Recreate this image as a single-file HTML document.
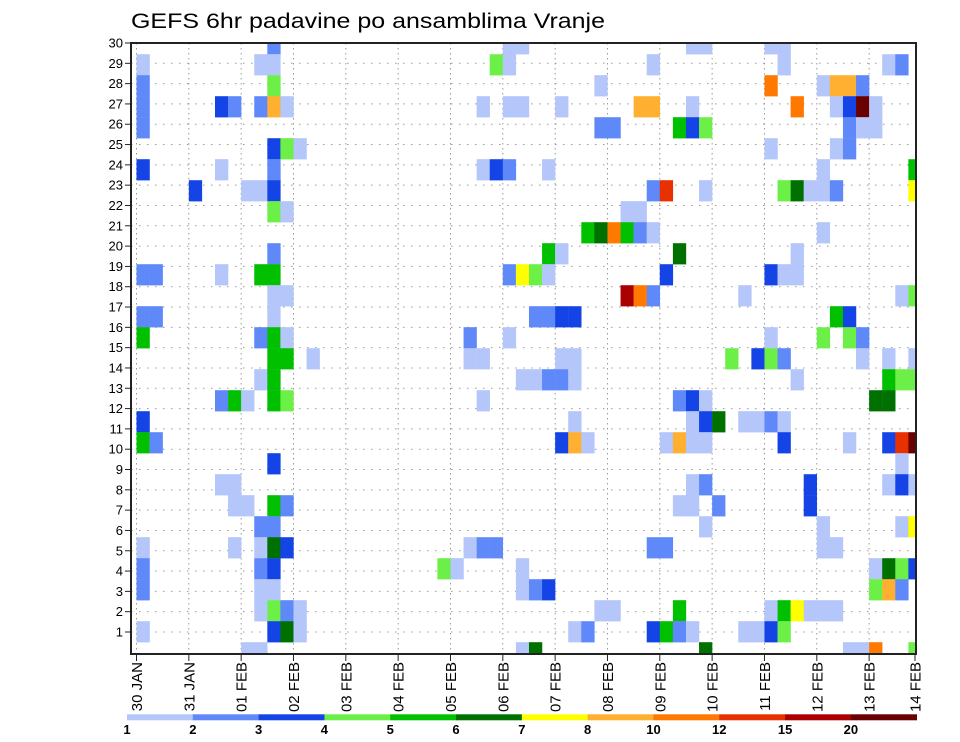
<!DOCTYPE html>
<html><head><meta charset="utf-8">
<style>
html,body{margin:0;padding:0;background:#fff;}
svg{display:block;font-family:"Liberation Sans",sans-serif;}
</style></head>
<body>
<svg id="chart" width="960" height="742" viewBox="0 0 960 742" xmlns="http://www.w3.org/2000/svg">
<text x="131" y="28" font-size="21" textLength="474" lengthAdjust="spacingAndGlyphs" fill="#000">GEFS 6hr padavine po ansamblima Vranje</text>
<defs><clipPath id="plotclip"><rect x="131" y="43" width="785" height="611"/></clipPath></defs>
<g id="grid"></g>
<g id="cells" clip-path="url(#plotclip)"></g>
<rect x="131" y="43" width="785" height="611" fill="none" stroke="#222" stroke-width="2"/>
<g id="yaxis"></g>
<g id="xaxis"></g>
<g id="legend"></g>
</svg>
<script>
// categories / ticks
const dayLabels = ["30 JAN","31 JAN","01 FEB","02 FEB","03 FEB","04 FEB","05 FEB","06 FEB","07 FEB","08 FEB","09 FEB","10 FEB","11 FEB","12 FEB","13 FEB","14 FEB"];
const memberTicks = [1,2,3,4,5,6,7,8,9,10,11,12,13,14,15,16,17,18,19,20,21,22,23,24,25,26,27,28,29,30];
const thresholdLabels = ["1","2","3","4","5","6","7","8","10","12","15","20"];
const thresholds = [1,2,3,4,5,6,7,8,10,12,15,20];
const palette = ["#b4c6fa","#5f88f8","#1444e6","#6cf048","#00c000","#007000","#ffff00","#ffb030","#ff7800","#e83000","#aa0000","#6a0000"];
// cells: [6h step from 30 JAN 00z, row from top, precip mm]
const cellData = [
[10,0,2.5],[28,0,1.5],[29,0,1.5],[42,0,1.5],[43,0,1.5],[48,0,1.5],[49,0,1.5],
[0,1,1.5],[9,1,1.5],[10,1,1.5],[27,1,4.5],[28,1,1.5],[39,1,1.5],[49,1,1.5],[57,1,1.5],[58,1,2.5],
[0,2,2.5],[10,2,4.5],[35,2,1.5],[48,2,11],[52,2,1.5],[53,2,9],[54,2,9],[55,2,2.5],
[0,3,2.5],[6,3,3.5],[7,3,2.5],[9,3,2.5],[10,3,9],[11,3,1.5],[26,3,1.5],[28,3,1.5],[29,3,1.5],[32,3,1.5],[38,3,9],[39,3,9],[42,3,1.5],[50,3,11],[53,3,1.5],[54,3,3.5],[55,3,22],[56,3,1.5],
[0,4,2.5],[35,4,2.5],[36,4,2.5],[41,4,5.5],[42,4,3.5],[43,4,4.5],[54,4,2.5],[55,4,1.5],[56,4,1.5],
[10,5,3.5],[11,5,4.5],[12,5,1.5],[48,5,1.5],[53,5,1.5],[54,5,2.5],
[0,6,3.5],[6,6,1.5],[10,6,2.5],[26,6,1.5],[27,6,3.5],[28,6,2.5],[31,6,1.5],[52,6,1.5],[59,6,5.5],
[4,7,3.5],[8,7,1.5],[9,7,1.5],[10,7,3.5],[39,7,2.5],[40,7,13],[43,7,1.5],[49,7,4.5],[50,7,6.5],[51,7,1.5],[52,7,1.5],[53,7,2.5],[59,7,7.5],
[10,8,4.5],[11,8,1.5],[37,8,1.5],[38,8,1.5],
[34,9,5.5],[35,9,6.5],[36,9,11],[37,9,5.5],[38,9,2.5],[39,9,1.5],[52,9,1.5],
[10,10,2.5],[31,10,5.5],[32,10,1.5],[41,10,6.5],[50,10,1.5],
[0,11,2.5],[1,11,2.5],[6,11,1.5],[9,11,5.5],[10,11,5.5],[28,11,2.5],[29,11,7.5],[30,11,4.5],[31,11,1.5],[40,11,3.5],[48,11,3.5],[49,11,1.5],[50,11,1.5],
[10,12,1.5],[11,12,1.5],[37,12,17],[38,12,11],[39,12,2.5],[46,12,1.5],[58,12,1.5],[59,12,4.5],
[0,13,2.5],[1,13,2.5],[10,13,1.5],[30,13,2.5],[31,13,2.5],[32,13,3.5],[33,13,3.5],[53,13,5.5],[54,13,3.5],
[0,14,5.5],[9,14,2.5],[10,14,5.5],[11,14,1.5],[25,14,2.5],[28,14,1.5],[48,14,1.5],[52,14,4.5],[54,14,4.5],[55,14,2.5],
[10,15,5.5],[11,15,5.5],[13,15,1.5],[25,15,1.5],[26,15,1.5],[32,15,1.5],[33,15,1.5],[45,15,4.5],[47,15,3.5],[48,15,4.5],[49,15,2.5],[55,15,1.5],[57,15,1.5],[59,15,1.5],
[9,16,1.5],[10,16,5.5],[29,16,1.5],[30,16,1.5],[31,16,2.5],[32,16,2.5],[33,16,1.5],[50,16,1.5],[57,16,5.5],[58,16,4.5],[59,16,4.5],
[6,17,2.5],[7,17,5.5],[8,17,1.5],[10,17,5.5],[11,17,4.5],[26,17,1.5],[41,17,2.5],[42,17,3.5],[43,17,1.5],[56,17,6.5],[57,17,6.5],
[0,18,3.5],[33,18,1.5],[42,18,1.5],[43,18,3.5],[44,18,6.5],[46,18,1.5],[47,18,1.5],[48,18,2.5],[49,18,1.5],
[0,19,5.5],[1,19,2.5],[32,19,3.5],[33,19,9],[34,19,1.5],[40,19,1.5],[41,19,9],[42,19,1.5],[43,19,1.5],[49,19,3.5],[54,19,1.5],[57,19,3.5],[58,19,13],[59,19,22],
[10,20,3.5],[58,20,1.5],
[6,21,1.5],[7,21,1.5],[42,21,1.5],[43,21,2.5],[51,21,3.5],[57,21,1.5],[58,21,3.5],[59,21,1.5],
[7,22,1.5],[8,22,1.5],[10,22,5.5],[11,22,2.5],[41,22,1.5],[42,22,1.5],[44,22,2.5],[51,22,3.5],
[9,23,2.5],[10,23,2.5],[43,23,1.5],[52,23,1.5],[58,23,1.5],[59,23,7.5],
[0,24,1.5],[7,24,1.5],[9,24,1.5],[10,24,6.5],[11,24,3.5],[25,24,1.5],[26,24,2.5],[27,24,2.5],[39,24,2.5],[40,24,2.5],[52,24,1.5],[53,24,1.5],
[0,25,2.5],[9,25,2.5],[10,25,3.5],[23,25,4.5],[24,25,1.5],[29,25,1.5],[56,25,1.5],[57,25,6.5],[58,25,4.5],[59,25,3.5],
[0,26,2.5],[9,26,1.5],[10,26,1.5],[29,26,1.5],[30,26,2.5],[31,26,3.5],[56,26,4.5],[57,26,9],[58,26,2.5],
[9,27,1.5],[10,27,4.5],[11,27,2.5],[12,27,1.5],[35,27,1.5],[36,27,1.5],[41,27,5.5],[48,27,1.5],[49,27,5.5],[50,27,7.5],[51,27,1.5],[52,27,1.5],[53,27,1.5],
[0,28,1.5],[10,28,3.5],[11,28,6.5],[12,28,1.5],[33,28,1.5],[34,28,2.5],[39,28,3.5],[40,28,5.5],[41,28,2.5],[42,28,1.5],[46,28,1.5],[47,28,1.5],[48,28,3.5],[49,28,4.5],
[8,29,1.5],[9,29,1.5],[29,29,1.5],[30,29,6.5],[43,29,6.5],[54,29,1.5],[55,29,1.5],[56,29,11],[59,29,4.5]
];

const NS="http://www.w3.org/2000/svg";
const PL=131, PR=916, PT=43, PB=654;
const X0=136.5, DAYW=52.33, STEP=DAYW/4;
function xDay(d){return X0 + d*DAYW;}
function xStep(k){return X0 + k*STEP;}
function yRow(j){return 43.7 + j*21.0;}
function yTick(n){return PT + (30-n)*20.31;}
function colorFor(v){let i=0;for(let t=0;t<thresholds.length;t++){if(v>=thresholds[t])i=t;}return palette[i];}
function mk(tag,attrs,parent){const e=document.createElementNS(NS,tag);for(const a in attrs)e.setAttribute(a,attrs[a]);parent.appendChild(e);return e;}

const grid=document.getElementById('grid');
memberTicks.forEach(n=>{
  const l=mk('line',{x1:PL,x2:PR,y1:yTick(n),y2:yTick(n),stroke:'#999','stroke-width':1,'stroke-dasharray':'1.5,6.5'},grid);
  
  
});
dayLabels.forEach((d,i)=>{
  const x=Math.min(xDay(i),PR);
  if(x<=PL+2||x>=PR-1)return;
  const l=mk('line',{x1:x,x2:x,y1:PT,y2:PB,stroke:'#999','stroke-width':1,'stroke-dasharray':'1.5,3.5'},grid);
  
  
});

const cg=document.getElementById('cells');
cellData.forEach(c=>{
  const r=mk('rect',{x:xStep(c[0]),y:yRow(c[1])-10.5,width:STEP+0.2,height:21.2,fill:colorFor(c[2])},cg);
  
  
});

const ya=document.getElementById('yaxis');
memberTicks.forEach(n=>{
  const y=yTick(n);
  const t=mk('line',{x1:PL-6,x2:PL,y1:y,y2:y,stroke:'#222','stroke-width':1},ya);
  
  
  const tx=mk('text',{x:PL-8,y:y+4.5,'font-size':13,'text-anchor':'end',fill:'#000'},ya);
  
  
  tx.textContent=n;
});

const xa=document.getElementById('xaxis');
dayLabels.forEach((d,i)=>{
  const x=Math.min(xDay(i),PR-1);
  const t=mk('line',{x1:x,x2:x,y1:PB,y2:PB+7,stroke:'#222','stroke-width':1},xa);
  
  
  const tx=mk('text',{x:0,y:0,'font-size':15,'text-anchor':'end',fill:'#000',transform:'translate('+(x+5.5)+','+(PB+8)+') rotate(-90)'},xa);
  
  
  tx.textContent=d;
});

const lg=document.getElementById('legend');
const LX=127, LW=(916.7-127)/palette.length;
palette.forEach((c,i)=>{
  const r=mk('rect',{x:LX+i*LW,y:714.3,width:LW+0.3,height:6,fill:c},lg);
  
  
});
thresholdLabels.forEach((s,i)=>{
  const t=mk('text',{x:LX+i*LW,y:734,'font-size':13,'font-weight':'bold','text-anchor':'middle',fill:'#000'},lg);
  
  
  t.textContent=s;
});
</script>
</body></html>
